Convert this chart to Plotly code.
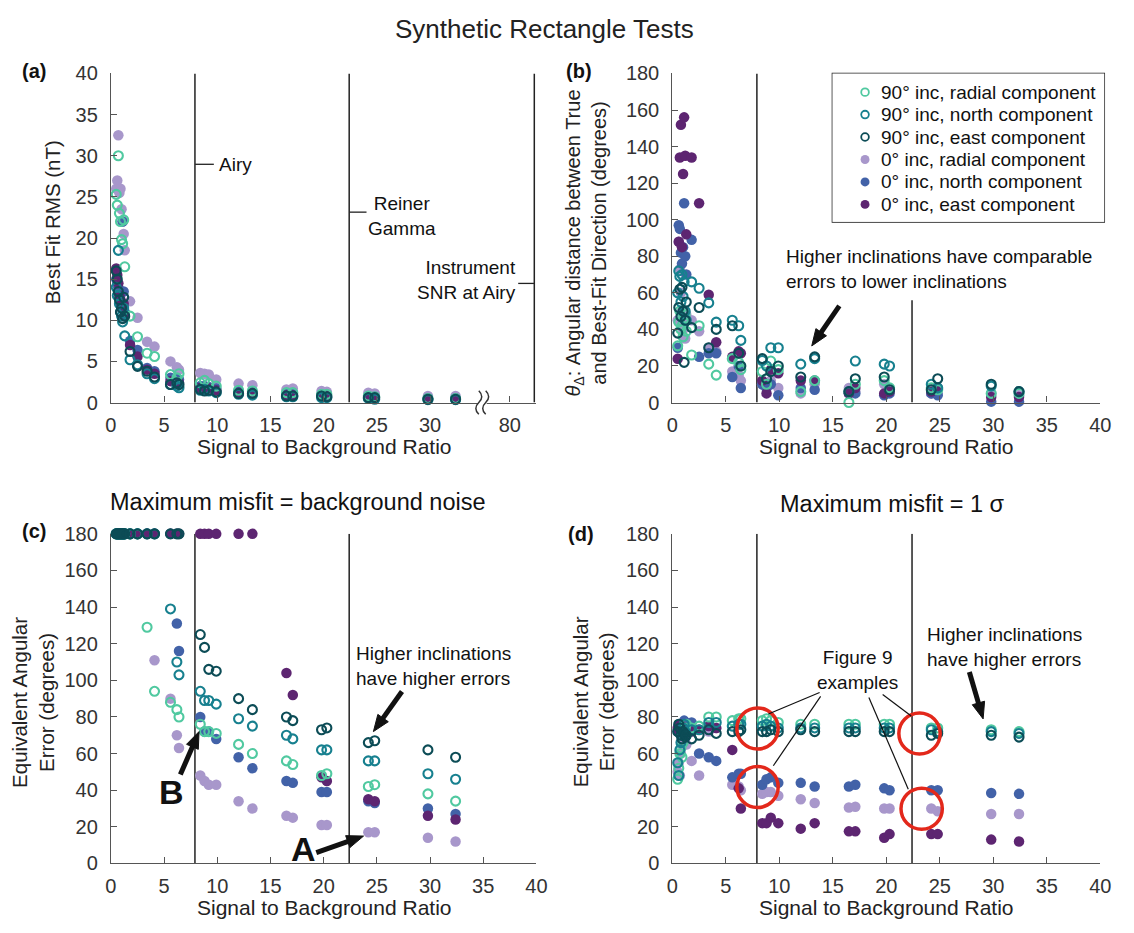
import math
import plotly.graph_objects as go

# ---------------- data ----------------
SNR = [0.5, 0.6, 0.7, 0.8, 0.9, 1.0, 1.1, 1.2, 1.3, 1.8, 2.5, 3.4, 4.1, 5.6, 6.2, 6.4,
       8.4, 8.8, 9.2, 9.9, 12.0, 13.3, 16.5, 17.1, 19.8, 20.3, 24.2, 24.8, 29.8, 32.4]

# (a) best-fit RMS (nT)
RMS_90R = [25.3, 24.0, 30.0, 23.0, 22.0, 19.8, 19.3, 22.2, 16.5, 10.5, 8.0, 6.0, 5.6, 3.4, 3.0,
           3.5, 2.4, 2.7, 2.3, 2.0, 1.5, 1.4, 1.2, 1.2, 1.0, 1.0, 0.8, 0.7, 0.5, 0.5]
RMS_90N = [14.0, 13.0, 18.5, 12.0, 11.0, 10.5, 9.8, 11.5, 8.1, 5.2, 4.6, 3.5, 2.9, 2.2, 2.0,
           1.8, 1.5, 1.6, 1.4, 1.2, 1.0, 0.9, 0.7, 0.7, 0.6, 0.6, 0.5, 0.4, 0.35, 0.35]
RMS_90E = [16.0, 15.0, 13.5, 12.5, 11.0, 11.5, 10.2, 12.8, 10.5, 6.2, 4.4, 3.8, 3.1, 2.2, 2.4,
           2.2, 1.6, 1.4, 1.5, 1.3, 1.1, 1.1, 0.8, 0.8, 0.8, 0.7, 0.6, 0.6, 0.4, 0.4]
RMS_0R = [26.0, 27.0, 32.5, 25.5, 26.0, 23.5, 22.0, 20.5, 18.5, 12.3, 10.3, 7.4, 6.8, 5.0, 4.3,
          4.0, 3.6, 3.5, 3.4, 2.8, 2.3, 2.1, 1.6, 1.7, 1.4, 1.3, 1.2, 1.1, 0.8, 0.8]
RMS_0N = [15.0, 14.5, 14.0, 13.0, 12.0, 11.5, 22.0, 13.5, 11.0, 7.5, 6.4, 4.2, 3.8, 3.0, 2.9,
          2.8, 2.0, 2.0, 1.9, 1.7, 1.4, 1.3, 1.0, 1.0, 0.9, 0.9, 0.7, 0.7, 0.5, 0.5]
RMS_0E = [16.3, 15.5, 14.5, 13.0, 12.5, 12.0, 11.5, 12.0, 10.5, 7.0, 5.6, 4.0, 3.5, 2.6, 2.5,
          2.4, 1.8, 1.8, 1.7, 1.5, 1.2, 1.2, 0.9, 0.9, 0.9, 0.8, 0.6, 0.6, 0.5, 0.5]

# (b) angular distance between true and best-fit direction (degrees)
THETA_90R = [31, 44, 50, 40, 42, 36, 46, 48, 39, 26, 42, 21, 15, 24, 22,
             18, 17, 10, 22.7, 18, 6, 12, 0, 10, 12, 8, 8, 7, 5, 5]
THETA_90N = [60, 72, 69, 55, 70, 58, 66, 50, 45, 66, 62.5, 54.5, 44, 45, 42,
             34, 23, 20, 30, 30, 21, 24, 6, 22.7, 21, 20, 10, 8, 9, 6]
THETA_90E = [38, 52, 62, 47, 63, 50, 22, 45, 55, 41, 52, 30, 40, 42, 27,
             20, 24, 13, 17, 20, 14, 25, 6, 13, 14, 7, 7, 13, 10, 6]
THETA_0R = [45, 88, 73, 60, 50, 40, 44, 35, 48, 45, 39, 30, 28, 17, 15,
            12, 10, 8, 12, 8, 5, 10, 8, 6, 10, 6, 5, 5, 5, 4]
THETA_0N = [30, 97, 95, 82, 76, 85, 109, 80, 70, 89, 25, 27, 27, 14, 20,
            8, 10, 8, 10, 4, 8, 7, 5, 5, 4, 5, 5, 4, 0.5, 0.5]
THETA_0E = [24, 88, 134, 152, 85, 125, 156, 135, 92, 134, 109, 59, 33, 25, 28,
            27, 12, 5, 18, 16, 12, 12, 5, 8, 5, 6, 6, 8, 3, 3]

# (c) equivalent angular error, max misfit = background noise (degrees)
ERR_BG_90R = [180, 180, 180, 180, 180, 180, 180, 180, 180, 180, 180, 129, 94, 88, 84,
              80, 76, 72, 72, 71, 65, 60, 56, 54, 48, 49, 42, 43, 38, 34]
ERR_BG_90N = [180, 180, 180, 180, 180, 180, 180, 180, 180, 180, 180, 180, 180, 139, 110,
              103, 94, 89, 89, 87, 79, 75, 70, 68, 62, 62, 56, 56, 49, 46]
ERR_BG_90E = [180, 180, 180, 180, 180, 180, 180, 180, 180, 180, 180, 180, 180, 180, 180,
              180, 125, 118, 106, 105, 90, 84, 80, 78, 73, 74, 66, 67, 62, 58]
ERR_BG_0R = [180, 180, 180, 180, 180, 180, 180, 180, 180, 180, 180, 180, 111, 90, 70,
             63, 48, 45, 43, 43, 34, 30, 26, 25, 21, 21, 17, 17, 14, 12]
ERR_BG_0N = [180, 180, 180, 180, 180, 180, 180, 180, 180, 180, 180, 180, 180, 180, 131,
             116, 80, 72, 72, 68, 58, 52, 45, 44, 39, 39, 34, 33, 30, 27]
ERR_BG_0E = [180, 180, 180, 180, 180, 180, 180, 180, 180, 180, 180, 180, 180, 180, 180,
             180, 180, 180, 180, 180, 180, 180, 104, 92, 47, 45, 35, 34, 26, 24]

# (d) equivalent angular error, max misfit = 1 sigma (degrees)
ERR_1S_90R = [46, 52, 60, 63, 58, 66, 72, 74, 76, 74, 75, 80, 80, 78, 79,
              79, 78, 79, 78, 77, 76, 76, 76, 76, 76, 76, 74, 74, 73, 72]
ERR_1S_90N = [55, 48, 62, 66, 70, 74, 76, 72, 70, 73, 73, 77, 77, 75, 76,
              76, 75, 76, 75, 74, 74, 74, 74, 74, 74, 74, 73, 72, 72, 71]
ERR_1S_90E = [72, 76, 74, 70, 68, 72, 71, 69, 70, 68, 70, 73, 71, 72, 72,
              73, 72, 72, 73, 72, 73, 72, 72, 72, 72, 72, 70, 71, 70, 69]
ERR_1S_0R = [50, 55, 48, 60, 65, 68, 70, 66, 65, 56, 48, 72, 74, 43, 42,
             40, 38, 39, 39, 37, 35, 33, 30.5, 31, 30, 30, 30, 28.5, 27, 27]
ERR_1S_0N = [72, 76, 75, 74, 73, 76, 78, 77, 70, 77, 60, 58, 56, 47, 49,
             49, 43, 46, 47, 44, 44, 42, 42, 43, 41, 40, 40, 40, 38.5, 38]
ERR_1S_0E = [74, 73, 76, 72, 75, 70, 73, 71, 72, 72, 73, 75, 74, 62, 41,
             30, 22, 22, 25, 22, 19, 22, 17.5, 17.5, 14, 16, 16, 16, 13, 12]

SERIES_NAMES = ["90° inc, radial component", "90° inc, north component", "90° inc, east component",
                "0° inc, radial component", "0° inc, north component", "0° inc, east component"]

# reference SNR markers
AIRY_SNR = 7.9
REINER_SNR = 22.4
INSTRUMENT_SNR_POS = 39.8   # "80" on the broken axis
X_TICKS_A = [0, 5, 10, 15, 20, 25, 30, 37.5]
X_TICKTEXT_A = ["0", "5", "10", "15", "20", "25", "30", "80"]

# ---------------- styling ----------------
W, H = 1134, 933
COLORS = ["#50c9a0", "#17808f", "#0c4c56", "#a897cb", "#4262a8", "#5d2571"]
OPEN = [True, True, True, False, False, False]
FONT = "Liberation Sans, Arial, sans-serif"


def PX(x):
    return x / W


def PY(y):
    return 1 - y / H


def marker_style(i, scale=1.0):
    if OPEN[i]:
        return dict(symbol="circle-open", size=9 * scale, color=COLORS[i],
                    line=dict(width=2.1 * scale, color=COLORS[i]))
    return dict(symbol="circle", size=10.5 * scale, color=COLORS[i], line=dict(width=0))


panel_data = [
    ("x", "y", [RMS_90R, RMS_90N, RMS_90E, RMS_0R, RMS_0N, RMS_0E]),
    ("x2", "y2", [THETA_90R, THETA_90N, THETA_90E, THETA_0R, THETA_0N, THETA_0E]),
    ("x3", "y3", [ERR_BG_90R, ERR_BG_90N, ERR_BG_90E, ERR_BG_0R, ERR_BG_0N, ERR_BG_0E]),
    ("x4", "y4", [ERR_1S_90R, ERR_1S_90N, ERR_1S_90E, ERR_1S_0R, ERR_1S_0N, ERR_1S_0E]),
]

fig = go.Figure()
draw_order = [3, 4, 5, 0, 1, 2]
for xa, ya, ys in panel_data:
    for i in draw_order:
        fig.add_trace(go.Scatter(
            x=SNR, y=ys[i], mode="markers", marker=marker_style(i), name=SERIES_NAMES[i],
            xaxis=xa, yaxis=ya, showlegend=False, cliponaxis=False, hoverinfo="x+y+name",
        ))

# custom legend (panel b): one glyph per series on a hidden axis, entry index = row
LEG_ROWS = list(range(len(SERIES_NAMES)))
for i in LEG_ROWS:
    fig.add_trace(go.Scatter(x=[0.12], y=[i], mode="markers", marker=marker_style(i, 0.85),
                             xaxis="x5", yaxis="y5", showlegend=False, cliponaxis=False,
                             hoverinfo="skip"))

axis_common = dict(
    showline=True, linecolor="#555", linewidth=1.2, ticks="inside", ticklen=6,
    tickcolor="#555", tickwidth=1.2, showgrid=False, zeroline=False,
    tickfont=dict(family=FONT, size=20, color="#333"),
)
hidden = dict(visible=False, showgrid=False, zeroline=False, fixedrange=True)

xa_dom = [PX(106.5), PX(538.5)]
xb_dom = [PX(676.5), PX(1111)]
ytop_dom = [PY(401), PY(64)]
ybot_dom = [PY(873), PY(535.5)]

fig.update_layout(
    width=W, height=H, autosize=False, showlegend=False,
    margin=dict(l=0, r=0, t=0, b=0),
    paper_bgcolor="white", plot_bgcolor="white",
    xaxis=dict(domain=xa_dom, anchor="y", range=[0, 40], tickvals=X_TICKS_A, ticktext=X_TICKTEXT_A,
               ticklabelstandoff=4, **axis_common),
    yaxis=dict(domain=ytop_dom, anchor="x", range=[0, 40], dtick=5, ticklabelstandoff=8, **axis_common),
    xaxis2=dict(domain=xb_dom, anchor="y2", range=[0, 40], dtick=5, ticklabelstandoff=4, **axis_common),
    yaxis2=dict(domain=ytop_dom, anchor="x2", range=[0, 180], dtick=20, ticklabelstandoff=8, **axis_common),
    xaxis3=dict(domain=xa_dom, anchor="y3", range=[0, 40], dtick=5, ticklabelstandoff=4, **axis_common),
    yaxis3=dict(domain=ybot_dom, anchor="x3", range=[0, 180], dtick=20, ticklabelstandoff=8, **axis_common),
    xaxis4=dict(domain=xb_dom, anchor="y4", range=[0, 40], dtick=5, ticklabelstandoff=4, **axis_common),
    yaxis4=dict(domain=ybot_dom, anchor="x4", range=[0, 180], dtick=20, ticklabelstandoff=8, **axis_common),
    xaxis5=dict(domain=[PX(839), PX(1115)], anchor="y5", range=[0, 1], **hidden),
    yaxis5=dict(domain=[PY(216), PY(64)], anchor="x5", range=[5.78, -0.83], **hidden),
)

# ---------------- reference lines & shapes ----------------
shapes = []
vlines = [("x", "y", AIRY_SNR, 40), ("x", "y", REINER_SNR, 40), ("x", "y", INSTRUMENT_SNR_POS, 40),
          ("x2", "y2", AIRY_SNR, 180), ("x2", "y2", REINER_SNR, 56),
          ("x3", "y3", AIRY_SNR, 180), ("x3", "y3", REINER_SNR, 180),
          ("x4", "y4", AIRY_SNR, 180), ("x4", "y4", REINER_SNR, 180)]
for xr, yr, xv, ytop in vlines:
    shapes.append(dict(type="line", xref=xr, yref=yr, x0=xv, x1=xv, y0=0, y1=ytop,
                       line=dict(color="#222", width=1.5), layer="below"))

# legend frame
shapes.append(dict(type="rect", xref="paper", yref="paper", x0=PX(839), x1=PX(1115), y0=PY(216), y1=PY(64),
                   line=dict(color="#222", width=1.5), fillcolor="rgba(0,0,0,0)", layer="below"))

# small label ticks in panel (a)
for (x0, y0, x1, y1) in [(192, 157, 211, 157), (349, 206, 366, 206), (520, 279, 536, 279)]:
    shapes.append(dict(type="line", xref="paper", yref="paper", x0=PX(x0), y0=PY(y0), x1=PX(x1), y1=PY(y1),
                       line=dict(color="#222", width=1.3)))

# axis break squiggles in panel (a)
shapes.append(dict(type="rect", xref="paper", yref="paper", x0=PX(479), x1=PX(488), y0=PY(404), y1=PY(398),
                   fillcolor="white", line=dict(width=0), layer="above"))
for dx in (0, 7):
    p = [(480 + dx, 389), (486 + dx, 395), (480 + dx, 401), (474 + dx, 407), (480 + dx, 413)]
    path = "M {:.5f},{:.5f} Q {:.5f},{:.5f} {:.5f},{:.5f} Q {:.5f},{:.5f} {:.5f},{:.5f}".format(
        PX(p[0][0]), PY(p[0][1]), PX(p[1][0]), PY(p[1][1]), PX(p[2][0]), PY(p[2][1]),
        PX(p[3][0]), PY(p[3][1]), PX(p[4][0]), PY(p[4][1]))
    shapes.append(dict(type="path", xref="paper", yref="paper", path=path,
                       line=dict(color="#333", width=1.5), layer="above"))

# red circles (Figure 9 examples) in panel (d): centre in data units, radius in pixels
CIRCLES_D = [(7.96, 73.7), (7.96, 41.7), (23.1, 71.0), (23.3, 29.9)]
rx = 21 / 10.87
ry = 21 / 1.872
for cx, cy in CIRCLES_D:
    shapes.append(dict(type="circle", xref="x4", yref="y4", x0=cx - rx, x1=cx + rx, y0=cy - ry, y1=cy + ry,
                       line=dict(color="#e3281b", width=3.5), layer="above"))

# pointer lines from "Figure 9 examples"
for (x0, y0, x1, y1) in [(826, 698, 774, 720), (827, 702, 779, 773), (890, 700, 919, 722), (876, 703, 916, 797)]:
    shapes.append(dict(type="line", xref="paper", yref="paper", x0=PX(x0), y0=PY(y0), x1=PX(x1), y1=PY(y1),
                       line=dict(color="#111", width=1.2)))


def arrow(tail, tip, shaft=5, head_len=17, head_w=6.5):
    dx, dy = tip[0] - tail[0], tip[1] - tail[1]
    L = math.hypot(dx, dy)
    ux, uy = dx / L, dy / L
    nx, ny = -uy, ux
    bx, by = tip[0] - ux * head_len, tip[1] - uy * head_len
    shapes.append(dict(type="line", xref="paper", yref="paper", x0=PX(tail[0]), y0=PY(tail[1]),
                       x1=PX(bx + ux * 2), y1=PY(by + uy * 2), line=dict(color="#111", width=shaft)))
    pts = [(tip[0], tip[1]), (bx + nx * head_w, by + ny * head_w), (bx - nx * head_w, by - ny * head_w)]
    path = "M {:.5f},{:.5f} L {:.5f},{:.5f} L {:.5f},{:.5f} Z".format(
        PX(pts[0][0]), PY(pts[0][1]), PX(pts[1][0]), PY(pts[1][1]), PX(pts[2][0]), PY(pts[2][1]))
    shapes.append(dict(type="path", xref="paper", yref="paper", path=path,
                       fillcolor="#111", line=dict(color="#111", width=1)))


arrow((846, 302), (818, 343))     # panel (b)
arrow((402, 697), (373, 738))     # panel (c) higher inclinations
arrow((315, 862), (363, 845))     # A
arrow((177, 782), (196, 738))     # B
arrow((978, 677), (992, 725))     # panel (d)

fig.update_layout(shapes=shapes)

# ---------------- text annotations ----------------
ann = []


def text(x, y, s, size=19, xanchor="center", yanchor="middle", align="center", bold=False, angle=0,
         family=FONT, color="#111"):
    ann.append(dict(xref="paper", yref="paper", x=PX(x), y=PY(y), text=("<b>%s</b>" % s) if bold else s,
                    showarrow=False, xanchor=xanchor, yanchor=yanchor, align=align, textangle=angle,
                    font=dict(family=family, size=size, color=color)))


text(547, 18, "Synthetic Rectangle Tests", size=26, color="#222")
text(296, 503, "Maximum misfit = background noise", size=23.5)
text(900, 505, "Maximum misfit = 1 σ", size=23.5)

text(28, 61, "(a)", size=20, bold=True)
text(582, 61, "(b)", size=20, bold=True)
text(28, 533, "(c)", size=20, bold=True)
text(584, 536, "(d)", size=20, bold=True)

# axis titles
for cx in (323, 894):
    text(cx, 446, "Signal to Background Ratio", size=21, color="#222")
    text(cx, 918, "Signal to Background Ratio", size=21, color="#222")
text(48, 216, "Best Fit RMS (nT)", size=20.5, angle=-90, color="#222")
text(589, 238, "<i>θ</i><sub>Δ</sub>: Angular distance between True<br>and Best-Fit Direction (degrees)",
     size=20, angle=-90, color="#222")
text(28, 708, "Equivalent Angular<br>Error (degrees)", size=20.5, angle=-90, color="#222")
text(597, 708, "Equivalent Angular<br>Error (degrees)", size=20.5, angle=-90, color="#222")

# legend labels on the hidden legend axis
for i in LEG_ROWS:
    ann.append(dict(xref="x5", yref="y5", x=0.17, y=i, text=SERIES_NAMES[i], showarrow=False,
                    xanchor="left", yanchor="middle", font=dict(family=FONT, size=19, color="#111")))

# panel (a) labels
text(214, 157, "Airy", xanchor="left")
text(402, 210, "Reiner<br>Gamma")
text(520, 276, "Instrument<br>SNR at Airy", xanchor="right", align="right")

# panel (b)
text(790, 264, "Higher inclinations have comparable<br>errors to lower inclinations", xanchor="left", align="left")

# panel (c)
text(353, 671, "Higher inclinations<br>have higher errors", xanchor="left", align="left")
text(302, 858, "A", size=34, bold=True)
text(168, 800, "B", size=34, bold=True)

# panel (d)
text(864, 675, "Figure 9<br>examples")
text(933, 651, "Higher inclinations<br>have higher errors", xanchor="left", align="left")

fig.update_layout(annotations=ann)

fig.write_html("out.html", config={"displayModeBar": False},
               post_script="document.body.style.margin='0px';document.body.style.overflow='hidden';")
